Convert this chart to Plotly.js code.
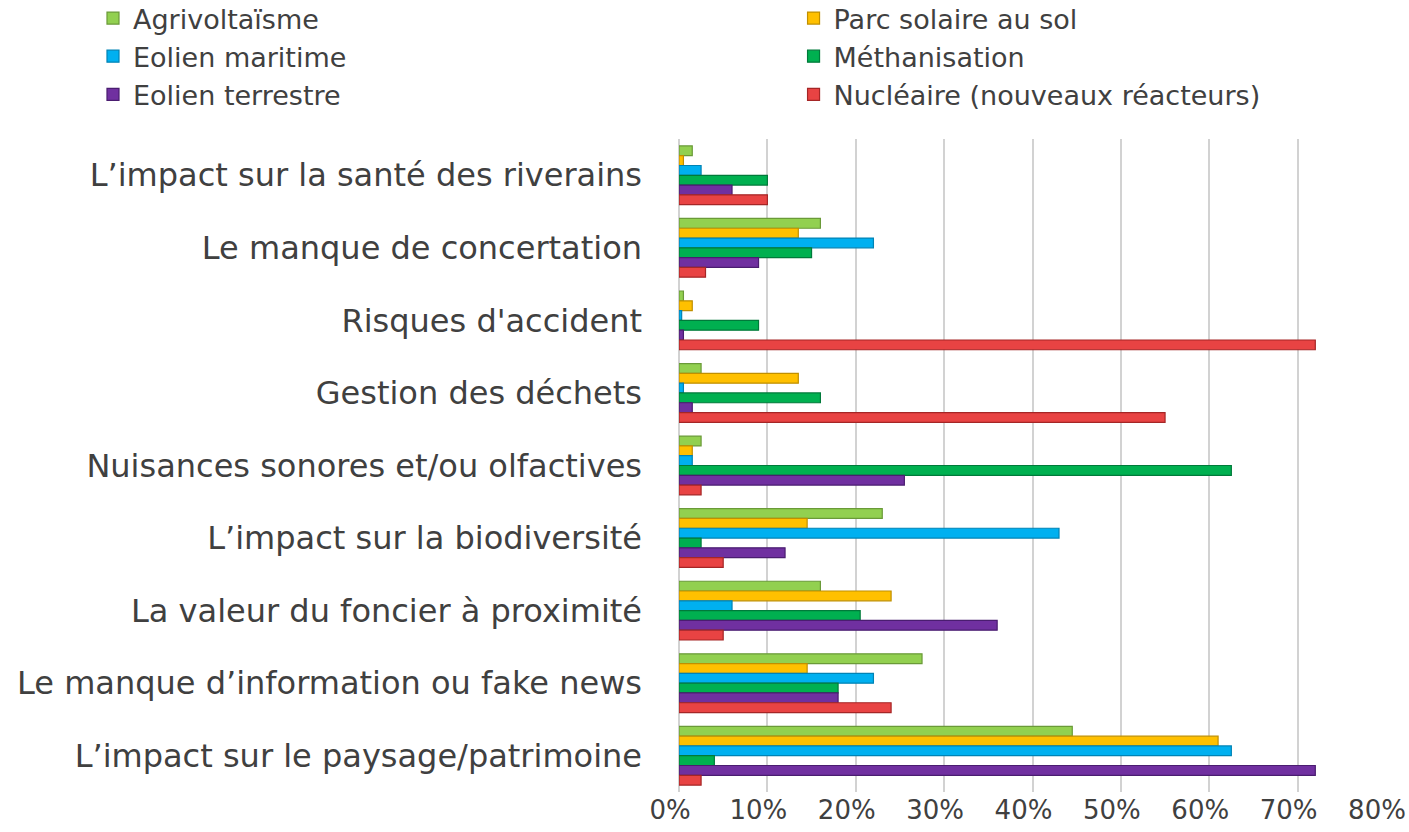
<!DOCTYPE html>
<html>
<head>
<meta charset="utf-8">
<script src="https://cdn.plot.ly/plotly-3.0.1.min.js"></script>
<style>html,body{margin:0;padding:0;background:#fff;}#chart{width:1409px;height:832px;}</style>
</head>
<body>
<div id="chart"></div>
<script>
// Categories, top to bottom
const categories = [
  "L’impact sur la santé des riverains",
  "Le manque de concertation",
  "Risques d'accident",
  "Gestion des déchets",
  "Nuisances sonores et/ou olfactives",
  "L’impact sur la biodiversité",
  "La valeur du foncier à proximité",
  "Le manque d’information ou fake news",
  "L’impact sur le paysage/patrimoine"
];
const seriesNames = ["Agrivoltaïsme", "Parc solaire au sol", "Eolien maritime", "Méthanisation", "Eolien terrestre", "Nucléaire (nouveaux réacteurs)"];
// Values in percent, same order as categories
const agrivoltaisme   = [1.5, 16, 0.5, 2.5, 2.5, 23, 16, 27.5, 44.5];
const parcSolaire     = [0.5, 13.5, 1.5, 13.5, 1.5, 14.5, 24, 14.5, 61];
const eolienMaritime  = [2.5, 22, 0.3, 0.5, 1.5, 43, 6, 22, 62.5];
const methanisation   = [10, 15, 9, 16, 62.5, 2.5, 20.5, 18, 4];
const eolienTerrestre = [6, 9, 0.5, 1.5, 25.5, 12, 36, 18, 72];
const nucleaire       = [10, 3, 72, 55, 2.5, 5, 5, 24, 2.5];
const xTicks = [0, 10, 20, 30, 40, 50, 60, 70, 80];

const values = [agrivoltaisme, parcSolaire, eolienMaritime, methanisation, eolienTerrestre, nucleaire];
const fills = ["#92D050", "#FFC000", "#00B0F0", "#00B050", "#7030A0", "#E84343"];
const edges = ["#6A9A38", "#C08F00", "#0083B5", "#007A3A", "#4A1D70", "#A52626"];
const legendOf = ["legend", "legend2", "legend", "legend2", "legend", "legend2"];

const traces = seriesNames.map((name, i) => ({
  type: "bar",
  orientation: "h",
  name: name,
  y: categories,
  x: values[i],
  marker: {color: fills[i], line: {color: edges[i], width: 1.2}},
  legend: legendOf[i],
  hovertemplate: "%{y}: %{x}%<extra>" + name + "</extra>"
}));

const legendFont = {family: "DejaVu Sans, sans-serif", size: 27, color: "#404040"};
const layout = {
  width: 1409, height: 832,
  paper_bgcolor: "#ffffff", plot_bgcolor: "#ffffff",
  margin: {l: 679, r: 23, t: 139, b: 40, autoexpand: false},
  barmode: "group",
  bargap: 0.19,
  bargroupgap: 0,
  font: {family: "DejaVu Sans, sans-serif", color: "#404040"},
  xaxis: {
    range: [0, 80],
    tickvals: xTicks,
    ticktext: xTicks.map(v => v + "%"),
    showgrid: true, gridcolor: "#d2d2d2", gridwidth: 2,
    zeroline: true, zerolinecolor: "#d2d2d2", zerolinewidth: 2,
    showline: false, ticks: "",
    tickfont: {family: "DejaVu Sans, sans-serif", size: 26, color: "#404040"},
    ticklabelshift: -9,
    automargin: false, fixedrange: true
  },
  yaxis: {
    type: "category",
    autorange: "reversed",
    showgrid: false, zeroline: false, showline: false, ticks: "",
    tickfont: {family: "DejaVu Sans, sans-serif", size: 32, color: "#404040"},
    ticklabelstandoff: 36,
    automargin: false, fixedrange: true
  },
  legend: {
    xref: "container", yref: "paper",
    x: 0.066, y: 1.222, xanchor: "left", yanchor: "top",
    orientation: "v", font: legendFont, bgcolor: "rgba(0,0,0,0)",
    itemclick: false, itemdoubleclick: false
  },
  legend2: {
    xref: "container", yref: "paper",
    x: 0.5632, y: 1.222, xanchor: "left", yanchor: "top",
    orientation: "v", font: legendFont, bgcolor: "rgba(0,0,0,0)",
    itemclick: false, itemdoubleclick: false
  },
  showlegend: true
};

Plotly.newPlot("chart", traces, layout, {displayModeBar: false, staticPlot: true});
</script>
</body>
</html>
